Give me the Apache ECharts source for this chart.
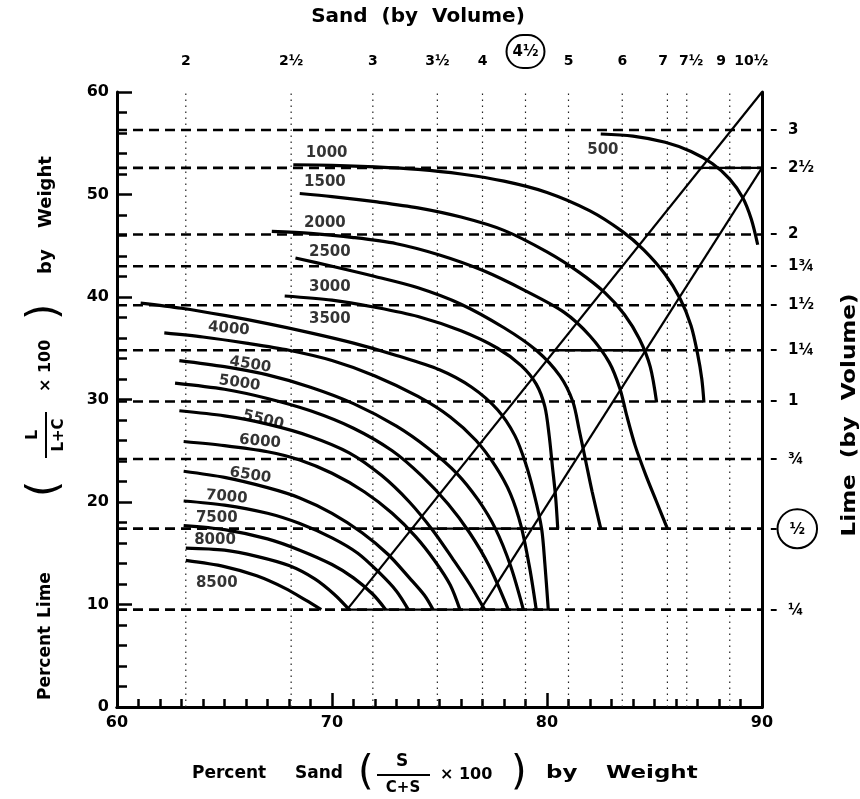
<!DOCTYPE html>
<html><head><meta charset="utf-8">
<script src="https://cdn.jsdelivr.net/npm/echarts@6/dist/echarts.min.js"></script>
<style>html,body{margin:0;padding:0;background:#fff}#c{width:860px;height:799px}</style>
</head><body><div id="c"></div>
<script>
// ---- Top axis: sand by volume ----
const sandLabels = ['2','2½','3','3½','4','4½','5','6','7','7½','9','10½'];
const sandLabelPos = [63.2, 68.1, 71.9, 74.9, 77.0, 79.0, 81.0, 83.5, 85.4, 86.7, 88.1, 89.5];
const sandDotted = [63.2, 68.1, 71.9, 74.9, 77.0, 79.0, 81.0, 83.5, 85.6, 86.5, 88.5];
// ---- Right axis: lime by volume ----
const limeLabels = ['3','2½','2','1¾','1½','1¼','1','¾','½','¼'];
const limeVals = [56.3, 52.6, 46.1, 43.0, 39.2, 34.8, 29.8, 24.2, 17.4, 9.5];
// solid segments on lime lines: [xFrom, xTo, y]
const solidSegs = [[87.2, 90, 52.6], [80.3, 84.5, 34.8], [73.7, 79.3, 17.4], [70.7, 80.1, 9.5]];
// diagonals
const diagA = [[70.7, 9.5], [90, 60]];
const diagB = [[76.9, 9.5], [90, 52.6]];
// ---- strength curves ----
const c500  = [[82.5,55.9],[84,55.7],[85.5,55.1],[86.7,54.2],[87.7,53.0],[88.5,51.5],[89.1,49.7],[89.5,47.6],[89.8,45.1]];
const c1000 = [[68.2,52.9],[70,52.85],[72,52.7],[74,52.45],[76,52.0],[78,51.3],[80,50.2],[82,48.4],[83.5,46.4],[84.5,44.6],[85.5,42.2],[86.2,39.8],[86.7,37.2],[87.0,34.5],[87.2,32.0],[87.3,29.7]];
const c1500 = [[68.5,50.1],[70,49.8],[72,49.3],[74,48.7],[76,47.8],[78,46.5],[80,44.4],[81.5,42.4],[82.7,40.4],[83.6,38.3],[84.3,35.9],[84.8,33.2],[85.1,29.7]];
const c2000 = [[67.2,46.4],[69,46.2],[71,45.8],[73,45.2],[75,44.1],[77,42.6],[79,40.6],[80.8,38.5],[82,36.2],[82.9,33.6],[83.4,31.0],[83.7,28.5],[84.1,25.5],[84.6,22.6],[85.1,20.0],[85.6,17.4]];
const c2500 = [[68.3,43.8],[70,43.0],[72,42.0],[74,40.9],[76,39.3],[78,37.0],[79.5,34.8],[80.6,32.3],[81.2,29.8],[81.5,27.0],[81.8,24.0],[82.1,21.0],[82.5,17.4]];
const c3000 = [[67.8,40.1],[70,39.7],[72,39.0],[74,38.1],[76,36.7],[77.7,35.0],[78.8,33.3],[79.5,31.5],[79.9,29.3],[80.1,26.5],[80.25,23.5],[80.4,20.5],[80.5,17.4]];
const c3500 = [[61.1,39.4],[63,38.9],[65,38.2],[67,37.4],[69,36.5],[71,35.5],[73,34.3],[75,32.9],[76.5,31.2],[77.7,29.0],[78.5,26.5],[79.0,23.8],[79.4,20.8],[79.75,17.4],[79.9,14.0],[80.06,9.5]];
const c4000 = [[62.2,36.5],[64,36.1],[66,35.5],[68,34.8],[70,33.8],[72,32.3],[74,30.3],[75.5,28.3],[76.7,26.0],[77.6,23.5],[78.3,20.8],[78.8,17.6],[79.2,13.5],[79.5,9.5]];
const c4500 = [[62.9,33.8],[65,33.2],[67,32.4],[69,31.2],[71,29.6],[73,27.4],[74.5,25.2],[75.8,22.8],[76.8,20.2],[77.6,17.4],[78.3,13.8],[78.9,9.5]];
const c5000 = [[62.7,31.6],[65,31.0],[67,30.1],[69,28.9],[71,27.2],[72.8,25.0],[74.2,22.5],[75.4,19.8],[76.4,17.0],[77.3,13.8],[78.2,9.5]];
const c5500 = [[62.9,28.9],[65,28.4],[67,27.6],[69,26.4],[70.8,24.8],[72.3,22.6],[73.6,20.0],[74.7,17.2],[75.6,14.5],[76.4,12.0],[77.1,9.5]];
const c6000 = [[63.1,25.9],[65,25.5],[67,24.9],[68.5,24.1],[70,22.8],[71.5,21.0],[72.8,18.9],[73.9,16.6],[74.8,14.2],[75.5,11.9],[75.95,9.5]];
const c6500 = [[63.1,23.0],[65,22.4],[67,21.4],[68.5,20.4],[70,18.9],[71.4,17.0],[72.6,14.9],[73.6,12.6],[74.3,10.9],[74.7,9.5]];
const c7000 = [[63.1,20.1],[65,19.7],[67,18.9],[68.5,17.9],[70,16.5],[71.2,15.0],[72.2,13.1],[73.0,11.3],[73.55,9.5]];
const c7500 = [[63.1,17.7],[65,17.3],[67,16.4],[68.5,15.3],[70,13.9],[71.0,12.6],[71.9,11.0],[72.5,9.5]];
const c8000 = [[63.2,15.5],[65,15.3],[66.5,14.7],[68,13.8],[69.2,12.5],[70.1,11.0],[70.8,9.5]];
const c8500 = [[63.2,14.3],[65,13.7],[66.5,12.8],[67.8,11.6],[68.8,10.4],[69.5,9.5]];
const curveNames = ['500','1000','1500','2000','2500','3000','3500','4000','4500','5000','5500','6000','6500','7000','7500','8000','8500'];
const curveLabelX = [82.6, 69.75, 69.67, 69.67, 69.9, 69.9, 69.9, 65.2, 66.2, 65.7, 66.8, 66.65, 66.2, 65.1, 64.64, 64.56, 64.64];
const curveLabelY = [54.3, 54.0, 51.2, 47.2, 44.4, 41.0, 37.8, 36.9, 33.4, 31.6, 28.0, 25.9, 22.6, 20.5, 18.4, 16.3, 12.1];
const curveLabelRot = [0, 0, 0, 0, 0, 0, 0, -5, -9, -8, -14, -5, -9, -5, 0, 0, 0];

const curves = [c500,c1000,c1500,c2000,c2500,c3000,c3500,c4000,c4500,c5000,c5500,c6000,c6500,c7000,c7500,c8000,c8500];

const FONT = 'DejaVu Sans';
const chart = echarts.init(document.getElementById('c'), null, {renderer: 'canvas'});
const series = [];

sandDotted.forEach(x => series.push({
  type: 'line', data: [[x, 0], [x, 60]], symbol: 'none', silent: true,
  lineStyle: {color: '#222', width: 1.2, type: [1.5, 4.5]}, z: 1
}));
limeVals.forEach(y => series.push({
  type: 'line', data: [[60, y], [90, y]], symbol: 'none', silent: true,
  lineStyle: {color: '#000', width: 2.6, type: [10, 6]}, z: 2
}));
solidSegs.forEach(s => series.push({
  type: 'line', data: [[s[0], s[2]], [s[1], s[2]]], symbol: 'none', silent: true,
  lineStyle: {color: '#000', width: 2.4}, z: 3
}));
[diagA, diagB].forEach(d => series.push({
  type: 'line', data: d, symbol: 'none', silent: true,
  lineStyle: {color: '#000', width: 2.2}, z: 3
}));
curves.forEach((c, i) => series.push({
  type: 'line', name: curveNames[i], data: c, symbol: 'none', smooth: 0.3, silent: true,
  lineStyle: {color: '#000', width: 3.2}, z: 4
}));
series.push({
  type: 'scatter', symbolSize: 0, silent: true, z: 5,
  data: curveNames.map((n, i) => ({value: [curveLabelX[i], curveLabelY[i]], name: n,
    label: {rotate: curveLabelRot[i]}})),
  label: {show: true, position: 'inside', formatter: p => p.name, color: '#000',
    fontFamily: FONT, fontWeight: 'bold', fontSize: 15}
});

const circTop = {borderColor: '#000', borderWidth: 2, borderRadius: 18, padding: [10, 6, 8, 6],
  fontFamily: FONT, fontWeight: 'bold', fontSize: 15, color: '#000'};
const circRight = {borderColor: '#000', borderWidth: 2, borderRadius: 21, padding: [13, 12, 11, 12],
  fontFamily: FONT, fontWeight: 'bold', fontSize: 15, color: '#000'};
const T = (x, y, text, font, extra) => Object.assign({type: 'text', x: x, y: y,
  style: {text: text, font: font, fill: '#000', verticalAlign: 'middle'}}, extra || {});
const B17 = 'bold 17px "DejaVu Sans"';

chart.setOption({
  animation: false,
  backgroundColor: '#fff',
  grid: {left: 117, right: 98, top: 92, bottom: 92},
  xAxis: [{
    type: 'value', position: 'bottom', min: 60, max: 90, interval: 10,
    axisLine: {lineStyle: {color: '#000', width: 3}},
    axisTick: {inside: true, length: 14, lineStyle: {color: '#000', width: 2.5}},
    minorTick: {show: true, splitNumber: 10, length: 8, lineStyle: {color: '#000', width: 2.5}},
    splitLine: {show: false},
    axisLabel: {margin: 8, color: '#000', fontFamily: FONT, fontWeight: 'bold', fontSize: 16}
  }, {
    type: 'value', position: 'top', min: 60, max: 90,
    axisLine: {show: true, lineStyle: {color: '#000', width: 3}},
    axisTick: {show: false}, splitLine: {show: false},
    axisLabel: {
      margin: 24, color: '#000', fontFamily: FONT, fontWeight: 'bold', fontSize: 14,
      hideOverlap: false, showMinLabel: true, showMaxLabel: true,
      customValues: sandLabelPos,
      formatter: v => {
        const i = sandLabelPos.findIndex(t => Math.abs(t - v) < 1e-6);
        if (i < 0) return '';
        return i === 5 ? '{c|' + sandLabels[i] + '}' : sandLabels[i];
      },
      rich: {c: circTop}
    }
  }],
  yAxis: [{
    type: 'value', position: 'left', min: 0, max: 60, interval: 10,
    axisLine: {show: true, lineStyle: {color: '#000', width: 3}},
    axisTick: {show: true, inside: true, length: 15, lineStyle: {color: '#000', width: 2.5}},
    minorTick: {show: true, splitNumber: 5, length: 10, lineStyle: {color: '#000', width: 2.5}},
    splitLine: {show: false},
    axisLabel: {margin: 8, color: '#000', fontFamily: FONT, fontWeight: 'bold', fontSize: 16}
  }, {
    type: 'value', position: 'right', min: 0, max: 60,
    axisLine: {show: true, lineStyle: {color: '#000', width: 3}},
    axisTick: {show: false}, splitLine: {show: false},
    axisLabel: {
      margin: 8, color: '#000', fontFamily: FONT, fontWeight: 'bold', fontSize: 15,
      hideOverlap: false,
      customValues: limeVals,
      formatter: v => {
        const i = limeVals.findIndex(t => Math.abs(t - v) < 1e-6);
        if (i < 0) return '';
        return i === 8 ? '–{c|' + limeLabels[i] + '}' : '–  ' + limeLabels[i];
      },
      rich: {c: circRight}
    }
  }],
  series: series,
  graphic: [
    T(418, 17, 'Sand  (by  Volume)', 'bold 20px "DejaVu Sans"', {style: {text: 'Sand  (by  Volume)', font: 'bold 20px "DejaVu Sans"', fill: '#000', align: 'center', verticalAlign: 'middle'}}),
    // bottom title
    T(192, 774, 'Percent', B17),
    T(295, 774, 'Sand', B17),
    T(358, 774, '(', '40px "DejaVu Sans"'),
    T(402, 762, 'S', B17, {style: {text: 'S', font: B17, fill: '#000', align: 'center', verticalAlign: 'middle'}}),
    {type: 'line', shape: {x1: 377, y1: 775, x2: 430, y2: 775}, style: {stroke: '#000', lineWidth: 2}},
    T(403, 788, 'C+S', 'bold 15px "DejaVu Sans"', {style: {text: 'C+S', font: 'bold 15px "DejaVu Sans"', fill: '#000', align: 'center', verticalAlign: 'middle'}}),
    T(440, 775, '× 100', 'bold 16px "DejaVu Sans"'),
    T(511, 774, ')', '40px "DejaVu Sans"'),
    T(546, 774, 'by', B17, {scaleX: 1.35}),
    T(606, 774, 'Weight', B17, {scaleX: 1.35}),
    // left title (rotated)
    {type: 'group', x: 46, y: 432, rotation: Math.PI / 2, children: [
      T(-268, 0, 'Percent', B17),
      T(-186, 0, 'Lime', B17),
      T(-65, 0, '(', '42px "DejaVu Sans"'),
      T(-3, -13, 'L', 'bold 16px "DejaVu Sans"', {style: {text: 'L', font: 'bold 16px "DejaVu Sans"', fill: '#000', align: 'center', verticalAlign: 'middle'}}),
      {type: 'line', shape: {x1: -26, y1: 0, x2: 20, y2: 0}, style: {stroke: '#000', lineWidth: 2}},
      T(-3, 13, 'L+C', 'bold 15px "DejaVu Sans"', {style: {text: 'L+C', font: 'bold 15px "DejaVu Sans"', fill: '#000', align: 'center', verticalAlign: 'middle'}}),
      T(40, 0, '× 100', 'bold 16px "DejaVu Sans"'),
      T(112, 0, ')', '42px "DejaVu Sans"'),
      T(158, 0, 'by', 'bold 18px "DejaVu Sans"'),
      T(204, 0, 'Weight', 'bold 18px "DejaVu Sans"')
    ]},
    // right title (rotated)
    {type: 'text', x: 850, y: 415, rotation: Math.PI / 2, scaleX: 1.15,
      style: {text: 'Lime  (by  Volume)', font: 'bold 20px "DejaVu Sans"', fill: '#000', align: 'center', verticalAlign: 'middle'}}
  ]
});
</script></body></html>
